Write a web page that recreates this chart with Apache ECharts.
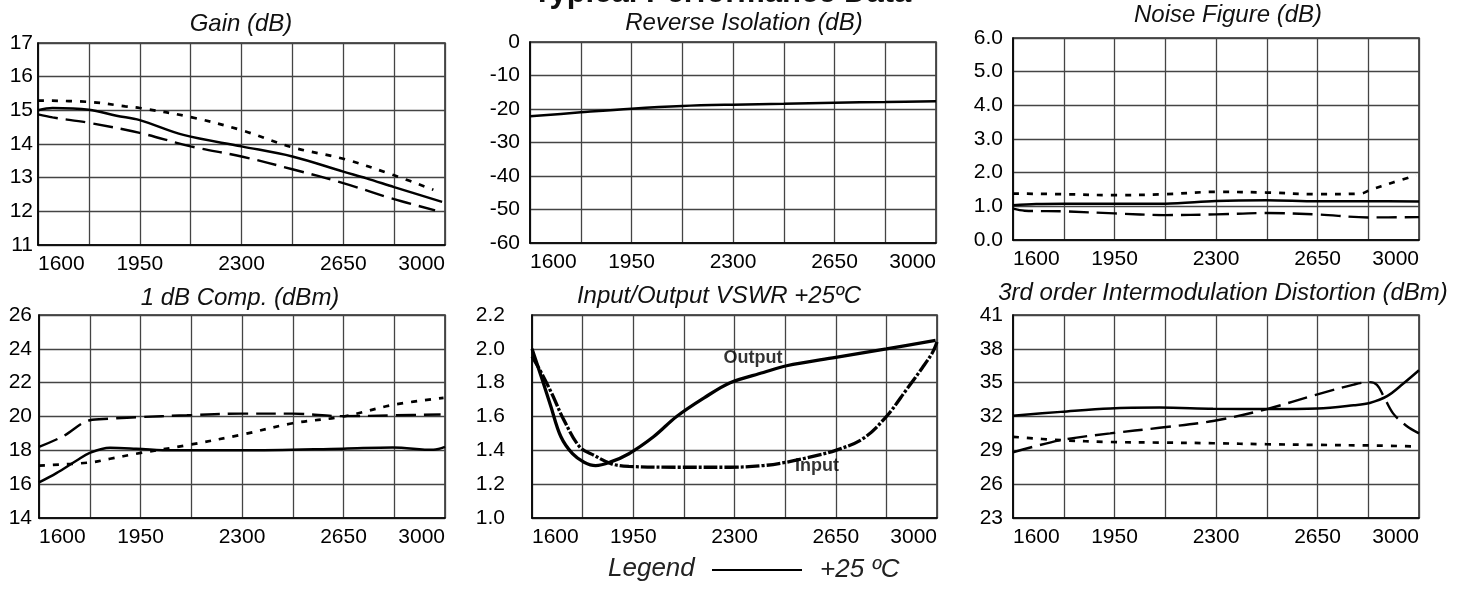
<!DOCTYPE html>
<html>
<head>
<meta charset="utf-8">
<script src="https://cdn.jsdelivr.net/npm/echarts@6/dist/echarts.min.js"></script>
<style>
html,body{margin:0;padding:0;background:#fff;}
#chart{width:1464px;height:590px;}
</style>
</head>
<body>
<div id="chart"></div>
<script>
// ---------- data ----------
const mainTitle = 'Typical Performance Data';
const panelTitles = ['Gain (dB)', 'Reverse Isolation (dB)', 'Noise Figure (dB)',
  '1 dB Comp. (dBm)', 'Input/Output VSWR +25ºC', '3rd order Intermodulation Distortion (dBm)'];
const freqTicks = [1600, 1950, 2300, 2650, 3000];
const legendName = '+25 ºC';
const coldName = '-40 ºC';
const hotName = '+85 ºC';

// Gain
const gainFreq25 = [1600, 1650, 1775, 1870, 1950, 2100, 2300, 2475, 2650, 2730, 2825, 2990];
const gain25     = [15.0, 15.07, 15.02, 14.84, 14.71, 14.27, 13.93, 13.63, 13.18, 12.98, 12.72, 12.28];
const gainFreqCold = [1600, 1775, 1900, 1950, 2125, 2300, 2475, 2650, 2825, 2960];
const gainCold     = [15.29, 15.25, 15.12, 15.07, 14.8, 14.41, 13.9, 13.56, 13.07, 12.64];
const gainFreqHot = [1600, 1650, 1775, 1950, 2125, 2300, 2475, 2650, 2825, 2966];
const gainHot     = [14.88, 14.79, 14.63, 14.33, 13.93, 13.63, 13.25, 12.84, 12.36, 12.03];

// Reverse isolation
const isoFreq = [1600, 1775, 1950, 2125, 2300, 2475, 2650, 2825, 3000];
const iso25   = [-22.2, -21.0, -19.9, -19.1, -18.7, -18.45, -18.1, -17.9, -17.7];

// Noise figure
const nfFreq25 = [1600, 1680, 1775, 1950, 2125, 2300, 2475, 2650, 2825, 3000];
const nf25     = [1.03, 1.07, 1.08, 1.08, 1.08, 1.16, 1.18, 1.15, 1.15, 1.14];
const nfFreqCold = [1600, 1775, 1950, 2125, 2300, 2475, 2650, 2800, 2830, 2910, 2990];
const nfCold     = [1.38, 1.36, 1.33, 1.36, 1.43, 1.41, 1.36, 1.38, 1.48, 1.71, 1.92];
const nfFreqHot = [1600, 1640, 1775, 1950, 2125, 2300, 2475, 2650, 2825, 3000];
const nfHot     = [0.93, 0.87, 0.85, 0.79, 0.74, 0.76, 0.80, 0.76, 0.67, 0.68];

// 1 dB compression
const p1Freq25 = [1600, 1660, 1730, 1775, 1845, 1935, 2060, 2300, 2650, 2820, 2960, 3000];
const p125     = [16.1, 16.65, 17.4, 17.85, 18.15, 18.1, 18.0, 18.0, 18.1, 18.17, 18.03, 18.2];
const p1FreqCold = [1600, 1775, 1845, 1935, 2110, 2300, 2475, 2650, 2825, 2995];
const p1Cold     = [17.1, 17.28, 17.5, 17.8, 18.3, 18.93, 19.6, 20.0, 20.7, 21.1];
const p1FreqHot = [1600, 1685, 1775, 1845, 1935, 2110, 2300, 2475, 2650, 2825, 2985];
const p1Hot     = [18.2, 18.85, 19.78, 19.87, 19.96, 20.07, 20.17, 20.17, 20.02, 20.07, 20.12];

// VSWR
const vswrFreqOut = [1600, 1635, 1665, 1700, 1740, 1780, 1820, 1870, 1935, 2020, 2100, 2195, 2285, 2400, 2480, 2650, 2825, 2995];
const vswrOut     = [2.0, 1.82, 1.66, 1.48, 1.38, 1.33, 1.31, 1.33, 1.38, 1.48, 1.6, 1.71, 1.8, 1.86, 1.9, 1.95, 2.0, 2.05];
const vswrFreqIn = [1600, 1635, 1670, 1710, 1765, 1815, 1875, 1935, 2100, 2285, 2400, 2480, 2560, 2650, 2745, 2825, 2895, 2950, 2985, 3000];
const vswrIn     = [1.955, 1.85, 1.73, 1.58, 1.42, 1.37, 1.32, 1.305, 1.3, 1.3, 1.31, 1.33, 1.36, 1.4, 1.47, 1.6, 1.76, 1.89, 1.98, 2.04];
const vswrLabelNames = ['Output', 'Input'];
const vswrLabelFreq  = [2364, 2585];
const vswrLabelValue = [1.946, 1.307];

// IMD
const imdFreq25 = [1600, 1765, 1935, 2105, 2290, 2475, 2650, 2775, 2830, 2890, 2945, 3000];
const imd25     = [32.07, 32.41, 32.72, 32.79, 32.69, 32.66, 32.72, 33.0, 33.2, 33.8, 34.9, 36.1];
const imdFreqHot = [1600, 1765, 1935, 2105, 2290, 2475, 2650, 2775, 2830, 2855, 2878, 2910, 2955, 3000];
const imdHot     = [28.83, 29.9, 30.5, 31.0, 31.6, 32.66, 33.97, 34.83, 35.05, 34.8, 33.8, 32.3, 31.2, 30.5];
const imdFreqCold = [1600, 1765, 1935, 2105, 2290, 2475, 2650, 2830, 3000];
const imdCold     = [30.2, 29.9, 29.74, 29.69, 29.63, 29.54, 29.48, 29.43, 29.34];

// axis ranges
const yMins = [11, -60, 0, 14, 1.0, 23];
const yMaxs = [17, 0, 6, 26, 2.2, 41];
const yIntervals = [1, 10, 1, 2, 0.2, 3];
const yDecimals = [0, 0, 1, 0, 1, 0];

// ---------- layout ----------
const FMIN = 1600, FMAX = 3000, FSTEP = 175;
const FONT = '"Liberation Sans", Arial, Helvetica, sans-serif';
const grids = [
  {left: 38, top: 43, width: 407, height: 202},
  {left: 530, top: 42, width: 406, height: 201},
  {left: 1013, top: 38, width: 406, height: 202},
  {left: 39, top: 315, width: 406, height: 203},
  {left: 532, top: 315, width: 405, height: 203},
  {left: 1013, top: 315, width: 406, height: 203}
];
const titlePos = [[241, 12], [744, 11], [1228, 3], [240, 286], [719, 284], [1223, 281]];
const yLabelMargin = [5, 10, 10, 7, 27, 10];

// y axes are drawn relative to their minimum so tick counting starts at a grid line
function pts(freqs, vals, p) {
  return freqs.map((f, i) => [f - FMIN, vals[i] - yMins[p]]);
}

const xAxes = grids.map((g, i) => ({
  type: 'value', gridIndex: i, min: 0, max: FMAX - FMIN, interval: FSTEP,
  axisLine: {show: true, onZero: false, lineStyle: {color: '#000', width: 1.6}},
  axisTick: {show: false},
  splitLine: {show: true, lineStyle: {color: '#444', width: 1.3}},
  axisLabel: {
    interval: 0, hideOverlap: false, margin: 9,
    fontFamily: FONT, fontSize: 21, color: '#000',
    alignMinLabel: 'left', alignMaxLabel: 'right',
    formatter: v => freqTicks.indexOf(v + FMIN) >= 0 ? String(v + FMIN) : ''
  }
}));

const yAxes = grids.map((g, i) => ({
  type: 'value', gridIndex: i, min: 0, max: +(yMaxs[i] - yMins[i]).toFixed(6), interval: yIntervals[i],
  axisLine: {show: true, onZero: false, lineStyle: {color: '#000', width: 1.6}},
  axisTick: {show: false},
  splitLine: {show: true, lineStyle: {color: '#444', width: 1.3}},
  axisLabel: {
    margin: yLabelMargin[i], fontFamily: FONT, fontSize: 21, color: '#000',
    formatter: v => (v + yMins[i]).toFixed(yDecimals[i])
  }
}));

const SOLID = {color: '#000', width: 2.5, type: 'solid'};
const DOT = {color: '#000', width: 2.7, type: [6, 8]};
const DASH = {color: '#000', width: 2.4, type: [20, 8]};

function line(name, p, freqs, vals, style, extra) {
  return Object.assign({
    name: name, type: 'line', xAxisIndex: p, yAxisIndex: p,
    data: pts(freqs, vals, p), showSymbol: false, symbol: 'none',
    smooth: 0.35, lineStyle: style, itemStyle: {color: '#000'},
    silent: true, animation: false
  }, extra || {});
}

const series = [
  line(legendName, 0, gainFreq25, gain25, SOLID),
  line(coldName, 0, gainFreqCold, gainCold, DOT),
  line(hotName, 0, gainFreqHot, gainHot, DASH),
  line(legendName, 1, isoFreq, iso25, SOLID),
  line(legendName, 2, nfFreq25, nf25, SOLID),
  line(coldName, 2, nfFreqCold, nfCold, DOT),
  line(hotName, 2, nfFreqHot, nfHot, DASH),
  line(legendName, 3, p1Freq25, p125, SOLID),
  line(coldName, 3, p1FreqCold, p1Cold, DOT),
  line(hotName, 3, p1FreqHot, p1Hot, DASH),
  line('Output', 4, vswrFreqOut, vswrOut, {color: '#000', width: 3.3, type: 'solid'}),
  line('Input', 4, vswrFreqIn, vswrIn, {color: '#000', width: 3.3, type: [14, 2, 3, 2]}),
  {
    type: 'scatter', xAxisIndex: 4, yAxisIndex: 4, symbolSize: 0, silent: true, animation: false,
    data: vswrLabelNames.map((n, i) => [vswrLabelFreq[i] - FMIN, vswrLabelValue[i] - yMins[4], n]),
    label: {show: true, position: 'inside', formatter: p => p.data[2],
      fontFamily: FONT, fontSize: 18, fontWeight: 'bold', color: '#000'}
  },
  line(legendName, 5, imdFreq25, imd25, SOLID),
  line(hotName, 5, imdFreqHot, imdHot, DASH),
  line(coldName, 5, imdFreqCold, imdCold, DOT)
];

const titles = panelTitles.map((t, i) => ({
  text: t, left: titlePos[i][0], top: titlePos[i][1], textAlign: 'center', padding: 0,
  textStyle: {fontFamily: FONT, fontSize: 24, fontStyle: 'italic', fontWeight: 'normal', color: '#111'}
}));

const option = {
  backgroundColor: '#fff',
  animation: false,
  title: titles,
  grid: grids.map(g => Object.assign({show: true, borderColor: '#222', borderWidth: 1.5, containLabel: false}, g)),
  xAxis: xAxes,
  yAxis: yAxes,
  legend: {
    data: [legendName], left: 712, top: 557, itemWidth: 90, itemHeight: 2, icon: 'rect',
    selectedMode: false, padding: 0,
    itemStyle: {color: '#000'},
    textStyle: {fontFamily: FONT, fontSize: 26, fontStyle: 'italic', color: '#222', padding: [0, 0, 0, 13]}
  },
  graphic: [
    {type: 'text', left: 608, top: 556, silent: true,
      style: {text: 'Legend', fontFamily: FONT, fontSize: 26, fontStyle: 'italic', fill: '#222'}},
    {type: 'text', x: 722, y: -7, silent: true,
      style: {text: mainTitle, fontFamily: FONT, fontSize: 31, fontWeight: 'bold', fill: '#111',
        align: 'center', verticalAlign: 'middle'}}
  ],
  series: series
};

const chart = echarts.init(document.getElementById('chart'), null, {renderer: 'canvas'});
chart.setOption(option);
</script>
</body>
</html>
